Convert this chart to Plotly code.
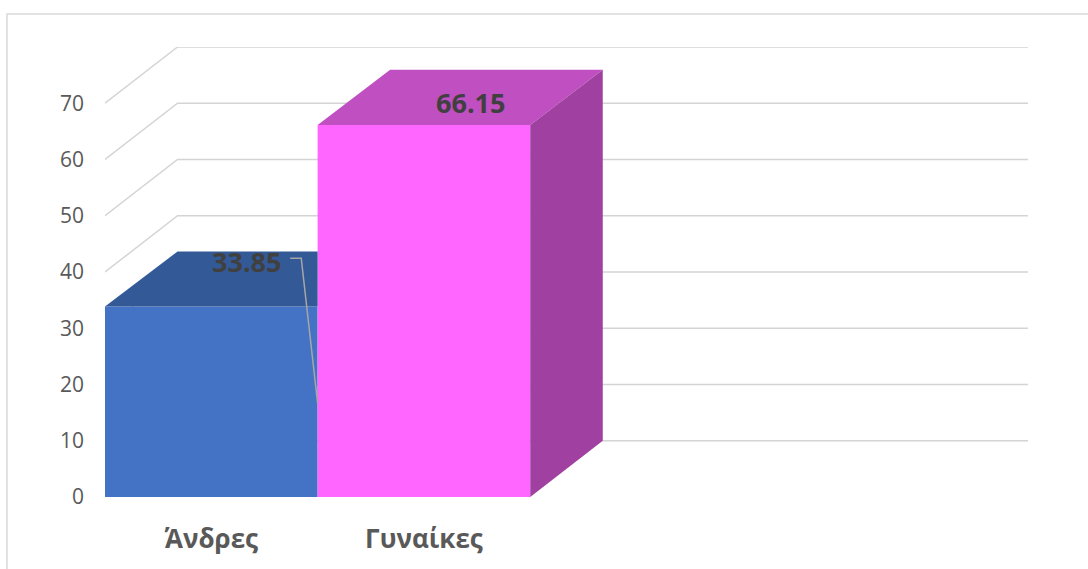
import plotly.graph_objects as go

categories = ["Άνδρες", "Γυναίκες"]
values = [33.85, 66.15]
label_texts = ["33.85", "66.15"]
front_colors = ["#4472C4", "#FF66FF"]
top_colors = ["#335A97", "#C04FC1"]
side_colors = ["#2B4C82", "#A040A0"]
y_ticks = [0, 10, 20, 30, 40, 50, 60, 70]

n_slots = 4          # category slots on the axis
DX = 72.5 / 212.5    # depth offset in x units
DY = 10              # depth offset of the walls in value units
BDY = 9.8            # depth offset of the bars in value units

fig = go.Figure()

# gridlines (left wall diagonals + back wall)
shapes = []
for v in y_ticks:
    shapes.append(dict(type="path", xref="x", yref="y", layer="below",
                       path=f"M 0,{v} L {DX},{v+DY} L {n_slots+DX},{v+DY}",
                       line=dict(color="#D4D4D4", width=1.5)))

xs = [i + 0.5 for i in range(len(categories))]

# front faces
for i, (c, v) in enumerate(zip(categories, values)):
    fig.add_trace(go.Bar(x=[xs[i]], y=[v], width=1, marker=dict(color=front_colors[i], line=dict(width=0)),
                         showlegend=False, hoverinfo="skip"))

# top and side faces
for i, v in enumerate(values):
    x0, x1 = xs[i] - 0.5, xs[i] + 0.5
    last = i == len(values) - 1
    xr = x1 + DX if last else x1
    fig.add_trace(go.Scatter(x=[x0, x0 + DX, xr, x1, x0], y=[v, v + BDY, v + BDY, v, v],
                             fill="toself", fillcolor=top_colors[i], mode="lines",
                             line=dict(width=0, color=top_colors[i]), showlegend=False, hoverinfo="skip"))
    if last:
        fig.add_trace(go.Scatter(x=[x1, x1 + DX, x1 + DX, x1, x1], y=[0, DY, v + BDY, v, 0],
                                 fill="toself", fillcolor=side_colors[i], mode="lines",
                                 line=dict(width=0, color=side_colors[i]), showlegend=False, hoverinfo="skip"))

# data labels
lab_font = dict(family="Open Sans", size=27, color="#404040")
fig.add_annotation(x=0.664, y=values[0] + 8, text=f"<b>{label_texts[0]}</b>", showarrow=False, font=lab_font)
fig.add_annotation(x=1.718, y=values[1] + 3.9, text=f"<b>{label_texts[1]}</b>", showarrow=False, font=lab_font)
# leader line for first label
shapes.append(dict(type="path", xref="x", yref="y", layer="above",
                   path=f"M 0.871,{values[0]+8.6} L 0.923,{values[0]+8.6} L 1.0,16.7",
                   line=dict(color="#A6A6A6", width=1.5)))

# chart border
shapes.append(dict(type="rect", xref="paper", yref="paper", x0=-0.1062, y0=-0.3, x1=1.2, y1=1.0733,
                   line=dict(color="#D9D9D9", width=1.5), layer="below"))

fig.update_layout(
    width=1088, height=569,
    margin=dict(l=105, r=60, t=47, b=72),
    paper_bgcolor="white", plot_bgcolor="white",
    barmode="overlay",
    shapes=shapes,
    xaxis=dict(range=[0, n_slots + DX], tickvals=xs, ticktext=[f"<b>{c}</b>" for c in categories],
               showgrid=False, zeroline=False, showline=False, ticks="",
               tickfont=dict(family="Open Sans", size=26, color="#595959"), ticklabelstandoff=24),
    yaxis=dict(range=[0, 80], tickvals=y_ticks, showgrid=False, zeroline=False, showline=False, ticks="",
               tickfont=dict(family="Open Sans", size=21, color="#595959"), ticklabelstandoff=20),
)

fig.write_html("out.html")
